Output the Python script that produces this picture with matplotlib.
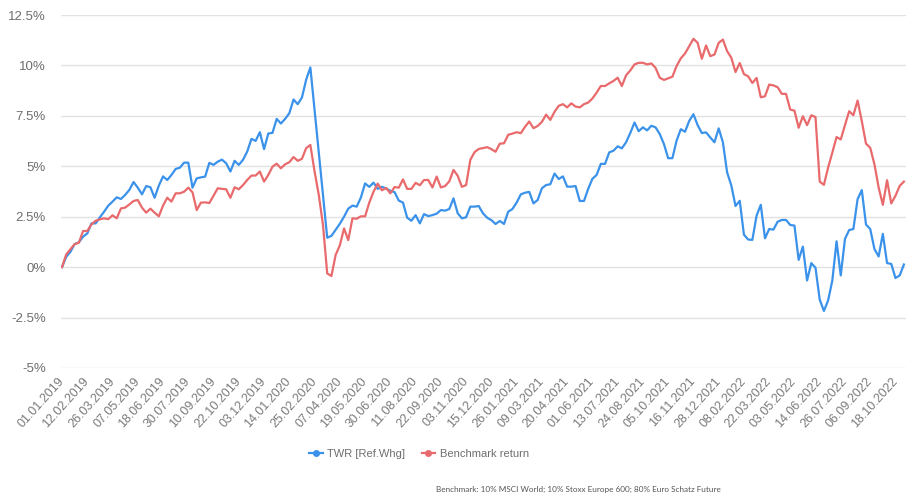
import numpy as np
import matplotlib
matplotlib.use("Agg")
import matplotlib.pyplot as plt
from matplotlib.lines import Line2D

# Weekly series starting 01.01.2019 (values in %)
twr = [0, 0.51, 0.76, 1.14, 1.23, 1.51, 1.67, 2.17, 2.17, 2.47, 2.75, 3.05, 3.25, 3.46, 3.38, 3.58,
       3.83, 4.22, 3.94, 3.61, 4.02, 3.96, 3.44, 4.04, 4.50, 4.32, 4.57, 4.87, 4.93, 5.18, 5.18, 3.94,
       4.40, 4.45, 4.49, 5.17, 5.07, 5.23, 5.33, 5.15, 4.74, 5.27,
       5.07, 5.32, 5.73, 6.36, 6.26, 6.69, 5.85, 6.62, 6.66, 7.35, 7.12, 7.35, 7.63, 8.31, 8.08, 8.41,
       9.29, 9.90,
       7.8, 5.68, 3.58, 1.46,
       1.55, 1.85, 2.15, 2.5, 2.9, 3.05, 3.0, 3.45, 4.15, 3.98, 4.19, 3.88, 3.98, 3.9, 3.78, 3.72, 3.3, 3.2,
       2.45, 2.30, 2.58, 2.17, 2.63, 2.53, 2.58, 2.65, 2.83, 2.80, 2.88, 3.41, 2.67, 2.42, 2.47, 3.0,
       3.0, 3.03, 2.67, 2.45, 2.33, 2.14, 2.29, 2.14, 2.75, 2.88, 3.2, 3.61, 3.69, 3.73, 3.16, 3.33,
       3.91, 4.07, 4.11, 4.64, 4.37, 4.50, 3.99, 3.99, 4.02, 3.28, 3.28,
       3.88, 4.38, 4.57, 5.12, 5.12, 5.69, 5.77, 5.99, 5.89, 6.19, 6.65, 7.17, 6.74, 6.93, 6.78, 7.01,
       6.93, 6.6, 6.1, 5.4, 5.4, 6.27, 6.84, 6.71, 7.25, 7.58, 7.04, 6.65, 6.68, 6.43, 6.19, 6.88,
       6.19, 4.70, 4.05, 3.03,
       3.29, 1.61, 1.37, 1.35, 2.55, 3.09, 1.43, 1.89, 1.86, 2.25, 2.34, 2.34, 2.09, 2.06, 0.36, 1.02,
       -0.66, 0.2, -0.03, -1.61, -2.17, -1.65, -0.66, 1.28, -0.41, 1.4, 1.84, 1.89, 3.37, 3.82, 2.11,
       1.89, 0.9, 0.53, 1.65, 0.2, 0.16, -0.54, -0.41, 0.13]

benchmark = [0, 0.63, 0.89, 1.14, 1.21, 1.79, 1.79, 2.12, 2.30, 2.37, 2.42, 2.38, 2.57, 2.42, 2.91,
             2.95, 3.11, 3.28, 3.33, 2.95, 2.70, 2.90, 2.70, 2.52, 3.05, 3.44, 3.25, 3.66, 3.66, 3.74,
             3.94, 3.71, 2.83, 3.20, 3.21, 3.18, 3.54, 3.91, 3.88, 3.86, 3.44, 3.96,
             3.86, 4.07, 4.32, 4.54, 4.54, 4.74, 4.24, 4.57, 4.98, 5.13, 4.90, 5.10, 5.20, 5.46, 5.27,
             5.37, 5.90, 6.06,
             4.74, 3.58, 2.09, -0.31,
             -0.44, 0.6, 1.08, 1.92, 1.34, 2.42, 2.4, 2.52, 2.52, 3.2, 3.74, 4.14, 3.81, 3.92, 3.66,
             3.97, 3.94, 4.35,
             3.88, 3.88, 4.18, 4.06, 4.32, 4.32, 3.95, 4.49, 3.95, 4.02, 4.25, 4.82, 4.53, 3.98, 4.07,
             5.32, 5.7, 5.86, 5.9, 5.95, 5.85, 5.72, 6.12, 6.14, 6.56, 6.62, 6.69, 6.64, 6.96, 7.22,
             6.89, 7.0, 7.2, 7.56, 7.3, 7.7, 8.0, 8.08, 7.92, 8.12, 7.96, 7.92, 8.08,
             8.16, 8.36, 8.65, 8.98, 8.98, 9.11, 9.23, 9.39, 8.98, 9.51, 9.75, 10.05, 10.13, 10.13,
             10.05, 10.1, 9.88, 9.39, 9.28, 9.36, 9.44, 9.97, 10.35, 10.59, 10.96, 11.32, 11.12, 10.33,
             10.99, 10.46, 10.54, 11.12, 11.28, 10.71, 10.38, 9.67,
             10.12, 9.57, 9.46, 9.13, 9.38, 8.42, 8.47, 9.05, 9.01, 8.92, 8.59, 8.59, 7.81, 7.76, 6.91,
             7.48, 7.04, 7.53, 7.44, 4.24, 4.08, 4.94, 5.68, 6.45, 6.33, 7.04, 7.73, 7.53, 8.26, 7.24,
             6.12, 5.92, 5.1, 3.95, 3.09, 4.31, 3.16, 3.54, 4.03, 4.24]

tick_labels = ["01.01.2019", "12.02.2019", "26.03.2019", "07.05.2019", "18.06.2019", "30.07.2019",
               "10.09.2019", "22.10.2019", "03.12.2019", "14.01.2020", "25.02.2020", "07.04.2020",
               "19.05.2020", "30.06.2020", "11.08.2020", "22.09.2020", "03.11.2020", "15.12.2020",
               "26.01.2021", "09.03.2021", "20.04.2021", "01.06.2021", "13.07.2021", "24.08.2021",
               "05.10.2021", "16.11.2021", "28.12.2021", "08.02.2022", "22.03.2022", "03.05.2022",
               "14.06.2022", "26.07.2022", "06.09.2022", "18.10.2022"]
tick_step = 6  # every 6th weekly point is labelled

y_ticks = [-5, -2.5, 0, 2.5, 5, 7.5, 10, 12.5]
y_tick_labels = ["-5%", "-2.5%", "0%", "2.5%", "5%", "7.5%", "10%", "12.5%"]

series_names = ["TWR [Ref.Whg]", "Benchmark return"]
footnote = "Benchmark: 10% MSCI World; 10% Stoxx Europe 600; 80% Euro Schatz Future"

BLUE = "#3a92ea"
RED = "#e96a6c"
TXT = "#6e6e6e"

plt.rcParams["font.family"] = ["Liberation Sans", "DejaVu Sans"]

fig = plt.figure(figsize=(9.06, 4.96), dpi=100)
ax = fig.add_axes([61 / 906, (496 - 368) / 496, (906 - 61) / 906, (368 - 15) / 496])

x = np.arange(len(twr))
ax.plot(x, twr, color=BLUE, lw=1.6, solid_joinstyle="round", zorder=3)
ax.plot(np.arange(len(benchmark)), benchmark, color=RED, lw=1.6, solid_joinstyle="round", zorder=3)

ax.set_xlim(-0.24, 200.5)
ax.set_ylim(-5, 12.5)
ax.set_yticks(y_ticks)
ax.set_yticklabels(y_tick_labels)
ax.set_xticks(np.arange(len(tick_labels)) * tick_step)
ax.set_xticklabels(tick_labels, rotation=48, ha="right", va="center", rotation_mode="anchor")

ax.tick_params(axis="y", length=0, pad=11, labelsize=9.5, labelcolor=TXT)
ax.tick_params(axis="x", length=0, pad=8, labelsize=9, labelcolor="#7a7a7a")
ax.grid(axis="y", color="#e2e2e2", lw=1)
ax.set_axisbelow(True)
for s in ax.spines.values():
    s.set_visible(False)

handles = [Line2D([0], [0], color=BLUE, lw=1.6, marker="o", markersize=4),
           Line2D([0], [0], color=RED, lw=1.6, marker="o", markersize=4)]
leg = fig.legend(handles, series_names, loc="center", bbox_to_anchor=(419 / 906, 1 - 454 / 496),
                 ncol=2, frameon=False, fontsize=8, handlelength=1.2, handletextpad=0.4,
                 columnspacing=1.5, labelcolor=TXT)

fig.text(578 / 906, 1 - 489 / 496, footnote, ha="center", va="center", fontsize=5.9,
         color="#555555", family=["Lato", "DejaVu Sans"])

fig.savefig("out.png", dpi=100)
